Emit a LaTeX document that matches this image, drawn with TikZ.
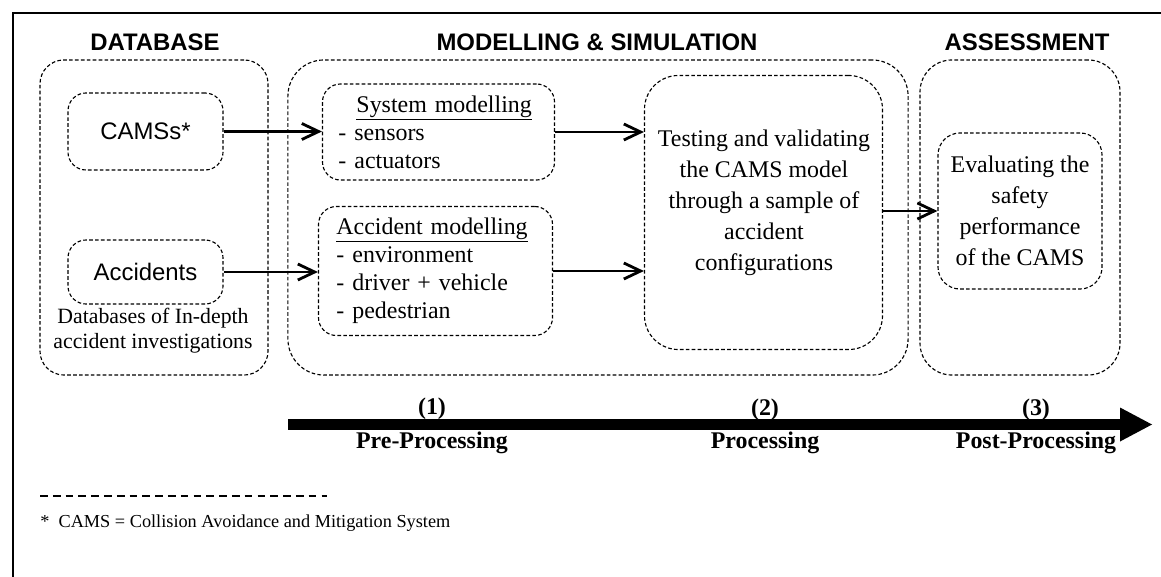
\documentclass[tikz,border=0pt]{standalone}
\usepackage{fontspec}
\setmainfont{Liberation Serif}
\setsansfont{Liberation Sans}
\usetikzlibrary{arrows.meta}

\tikzset{
  bigbox/.style={draw, line width=0.8pt, dash pattern=on 2.6pt off 1.6pt, rounded corners=0.8cm},
  smallbox/.style={draw, line width=0.8pt, dash pattern=on 2.6pt off 1.6pt, rounded corners=0.45cm},
  flow/.style={line width=2pt, -{Straight Barb[length=4.2mm, width=4mm]}},
  colhead/.style={font=\sffamily\bfseries\fontsize{17}{20}\selectfont},
  phase/.style={font=\bfseries\fontsize{17}{20}\selectfont},
}

\begin{document}
\begin{tikzpicture}[x=0.025cm, y=-0.025cm, font=\fontsize{17}{22}\selectfont]
    \useasboundingbox (0,0) rectangle (1161,577);
    \draw[line width=1.1pt] (13,577) -- (13,13) -- (1161,13);

    % column heads
    \node[colhead] (hdb) at (155,42) {DATABASE};
    \node[colhead] (hms) at (597,42) {MODELLING \& SIMULATION};
    \node[colhead] (has) at (1027,42) {ASSESSMENT};

    % outer frames
    \node[bigbox, rounded corners=0.6cm, minimum width=5.7cm, minimum height=7.875cm]
    (dbase) at (154,217.5) {};
    \node[bigbox, rounded corners=0.9cm, minimum width=15.5cm, minimum height=7.875cm]
    (msim) at (598,217.5) {};
    \node[bigbox, minimum width=5.0cm, minimum height=7.875cm]
    (asess) at (1020,217.5) {};

    % database column
    \node[smallbox, font=\sffamily\fontsize{17}{20}\selectfont,
          minimum width=3.875cm, minimum height=1.925cm]
    (cams) at (145.5,131.5) {CAMSs*};
    \node[smallbox, font=\sffamily\fontsize{17}{20}\selectfont,
          minimum width=3.875cm, minimum height=1.6cm]
    (accd) at (145.5,272) {Accidents};
    \node[align=center, font=\fontsize{15.5}{17.8}\selectfont]
    (dbnote) at (153,331) {Databases of In-depth\\accident investigations};

    % modelling column
    \node[smallbox, align=left, inner xsep=0.4cm, text width=5.0cm,
          minimum height=2.4cm, font=\fontsize{17}{20}\selectfont]
    (sysm) at (438.5,132) {\hspace*{0.45cm}\underline{System modelling}\\- sensors\\- actuators};
    \node[smallbox, align=left, inner xsep=0.45cm, text width=4.95cm,
          minimum height=3.225cm, font=\fontsize{17}{20}\selectfont]
    (accm) at (435.5,271) {\underline{Accident modelling}\\- environment\\- driver + vehicle\\- pedestrian};
    \node[smallbox, rounded corners=0.85cm, minimum width=5.95cm, minimum height=6.85cm]
    (test) at (763.5,212.5) {};
    \node[align=center] (testtxt) at (764,203)
    {Testing and validating\\the CAMS model\\through a sample of\\accident\\configurations};

    % assessment column
    \node[smallbox, rounded corners=0.55cm, align=center, minimum width=4.1cm,
          minimum height=3.9cm]
    (eval) at (1020,211) {Evaluating the\\safety\\performance\\of the CAMS};

    % connectors
    \draw[flow] (cams.east) -- (cams.east -| sysm.west);
    \draw[flow] (accd.east) -- (accd.east -| accm.west);
    \draw[flow] (sysm.east) -- (sysm.east -| test.west);
    \draw[flow] (accm.east) -- (accm.east -| test.west);
    \draw[flow] (eval.west -| test.east) -- (eval.west);

    % processing time line
    \coordinate (tl0) at (288,424.5);
    \coordinate (tl1) at (1152,424.5);
    \draw[line width=7.8pt, -{Triangle[length=0.8cm, width=0.85cm, line width=0pt]}] (tl0) -- (tl1);
    \node[phase] (n1) at (432,409) {(1)};
    \node[phase] (p1) at (432,443) {Pre-Processing};
    \node[phase] (n2) at (765,410) {(2)};
    \node[phase] (p2) at (765,443) {Processing};
    \node[phase] (n3) at (1036,410) {(3)};
    \node[phase] (p3) at (1036,443) {Post-Processing};

    % footnote
    \coordinate (fn0) at (40,496);
    \coordinate (fn1) at (327,496);
    \draw[line width=0.8pt, dash pattern=on 5.5pt off 3.6pt] (fn0) -- (fn1);
    \node[anchor=west, inner sep=0pt, font=\fontsize{13}{15}\selectfont]
    (fnote) at (40,523) {*~~CAMS = Collision Avoidance and Mitigation System};
\end{tikzpicture}
\end{document}
